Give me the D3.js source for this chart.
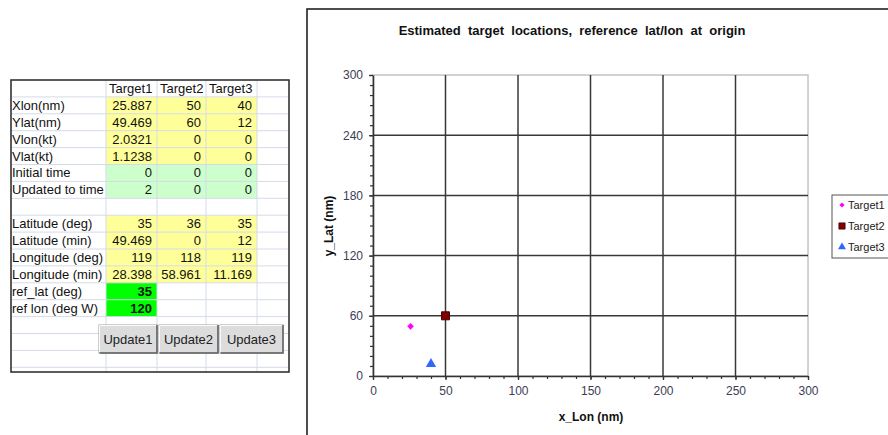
<!DOCTYPE html>
<html>
<head>
<meta charset="utf-8">
<script src="https://cdn.jsdelivr.net/npm/d3@7"></script>
<style>
  html, body { margin: 0; padding: 0; background: #fff; }
  svg { display: block; font-family: "Liberation Sans", Arial, sans-serif; }
</style>
</head>
<body>
<svg id="c" width="888" height="435"></svg>
<script>
// ---------- data ----------
const targets  = ["Target1", "Target2", "Target3"];
const xLon     = [25.887, 50, 40];
const yLat     = [49.469, 60, 12];
const vLon     = [2.0321, 0, 0];
const vLat     = [1.1238, 0, 0];
const initTime = [0, 0, 0];
const updTime  = [2, 0, 0];
const latDeg   = [35, 36, 35];
const latMin   = [49.469, 0, 12];
const lonDeg   = [119, 118, 119];
const lonMin   = [28.398, 58.961, 11.169];
const refLat   = 35;
const refLon   = 120;
const xTicks   = [0, 50, 100, 150, 200, 250, 300];
const yTicks   = [0, 60, 120, 180, 240, 300];
const buttons  = ["Update1", "Update2", "Update3"];
const chartTitle = "Estimated  target  locations,  reference  lat/lon  at  origin";

const svg = d3.select("#c");

// ---------- spreadsheet table ----------
const colX = [11, 106, 157, 206, 257, 289];   // column boundaries
const rowTop = 80, rowH = 16.9;
const rowsDef = [
  { label: "Xlon(nm)", vals: xLon, fill: "#ffff99" },
  { label: "Ylat(nm)", vals: yLat, fill: "#ffff99" },
  { label: "Vlon(kt)", vals: vLon, fill: "#ffff99" },
  { label: "Vlat(kt)", vals: vLat, fill: "#ffff99" },
  { label: "Initial time", vals: initTime, fill: "#ccffcc" },
  { label: "Updated to time", vals: updTime, fill: "#ccffcc" },
  { label: "", vals: null, fill: null },
  { label: "Latitude (deg)", vals: latDeg, fill: "#ffff99" },
  { label: "Latitude (min)", vals: latMin, fill: "#ffff99" },
  { label: "Longitude (deg)", vals: lonDeg, fill: "#ffff99" },
  { label: "Longitude (min)", vals: lonMin, fill: "#ffff99" },
  { label: "ref_lat (deg)", vals: [refLat], fill: "#00ff00", bold: true },
  { label: "ref lon (deg W)", vals: [refLon], fill: "#00ff00", bold: true }
];
const tableBottom = 372;
const tbl = svg.append("g");

// cell fills
rowsDef.forEach((r, i) => {
  if (!r.vals) return;
  const y0 = rowTop + (i + 1) * rowH;
  r.vals.forEach((v, j) => {
    tbl.append("rect").attr("x", colX[j + 1]).attr("y", y0)
      .attr("width", colX[j + 2] - colX[j + 1]).attr("height", rowH)
      .attr("fill", r.fill);
  });
});

// gridlines
const gridC = "#d4dbe8";
for (let k = 1; k < colX.length - 1; k++) {
  tbl.append("line").attr("x1", colX[k]).attr("x2", colX[k])
    .attr("y1", rowTop).attr("y2", tableBottom).attr("stroke", gridC).attr("stroke-width", 1);
}
for (let i = 1; i * rowH + rowTop < tableBottom; i++) {
  const yy = rowTop + i * rowH;
  tbl.append("line").attr("x1", colX[0]).attr("x2", colX[5])
    .attr("y1", yy).attr("y2", yy).attr("stroke", gridC).attr("stroke-width", 1);
}

// header
targets.forEach((t, j) => {
  tbl.append("text").attr("x", colX[j + 1] + 3).attr("y", rowTop + rowH / 2 + 4.5)
    .attr("font-size", 13).attr("fill", "#111").text(t);
});
// rows
rowsDef.forEach((r, i) => {
  const cy = rowTop + (i + 1) * rowH + rowH / 2 + 4.5;
  tbl.append("text").attr("x", 12).attr("y", cy).attr("font-size", 13)
    .attr("fill", "#111").text(r.label);
  if (!r.vals) return;
  r.vals.forEach((v, j) => {
    tbl.append("text").attr("x", colX[j + 2] - 5).attr("y", cy)
      .attr("text-anchor", "end").attr("font-size", 13)
      .attr("font-weight", r.bold ? "bold" : "normal")
      .attr("fill", "#111").text(String(v));
  });
});

// buttons
const btnX = [[99, 157], [159, 218], [220, 283]];
buttons.forEach((b, j) => {
  const [x0, x1] = btnX[j];
  const g = tbl.append("g");
  g.append("rect").attr("x", x0).attr("y", 325).attr("width", x1 - x0).attr("height", 28)
    .attr("fill", "#dcdcdc").attr("stroke", "#a0a0a0");
  g.append("path").attr("d", `M${x0 + 0.5},${352.5}V${325.5}H${x1 - 0.5}`)
    .attr("fill", "none").attr("stroke", "#fafafa");
  g.append("path").attr("d", `M${x0 + 0.5},${353}H${x1}V${325}`)
    .attr("fill", "none").attr("stroke", "#606060").attr("stroke-width", 1.5);
  g.append("text").attr("x", (x0 + x1) / 2).attr("y", 344).attr("text-anchor", "middle")
    .attr("font-size", 13).attr("fill", "#222").text(b);
});

// table border
tbl.append("rect").attr("x", colX[0]).attr("y", rowTop).attr("width", colX[5] - colX[0])
  .attr("height", tableBottom - rowTop).attr("fill", "none").attr("stroke", "#333").attr("stroke-width", 1.6);

// ---------- chart ----------
svg.append("rect").attr("x", 307).attr("y", 9).attr("width", 600).attr("height", 450)
  .attr("fill", "#fff").attr("stroke", "#222").attr("stroke-width", 1.6);

const X0 = 373, X1 = 808, Y0 = 376, Y1 = 75;
const x = d3.scaleLinear().domain([0, 300]).range([X0, X1]);
const y = d3.scaleLinear().domain([0, 300]).range([Y0, Y1]);

svg.append("text").attr("x", 572).attr("y", 35).attr("text-anchor", "middle")
  .attr("font-size", 13).attr("font-weight", "bold").attr("fill", "#111")
  .style("white-space", "pre").attr("xml:space", "preserve").text(chartTitle);

const plot = svg.append("g");
// plot border (light)
plot.append("rect").attr("x", X0).attr("y", Y1).attr("width", X1 - X0).attr("height", Y0 - Y1)
  .attr("fill", "none").attr("stroke", "#c4c4c4").attr("stroke-width", 1.5);

// gridlines
plot.selectAll(".gx").data(xTicks.filter(d => d > 0 && d < 300)).join("line")
  .attr("x1", d => x(d)).attr("x2", d => x(d)).attr("y1", Y0).attr("y2", Y1)
  .attr("stroke", "#383838").attr("stroke-width", 1.5);
plot.selectAll(".gy").data(yTicks.filter(d => d > 0 && d < 300)).join("line")
  .attr("x1", X0).attr("x2", X1).attr("y1", d => y(d)).attr("y2", d => y(d))
  .attr("stroke", "#383838").attr("stroke-width", 1.5);

// minor ticks
const minor = d3.range(0, 301, 10);
svg.append("g").attr("transform", `translate(0,${Y0})`)
  .call(d3.axisBottom(x).tickValues(minor).tickSize(3).tickFormat(""))
  .call(g => g.select(".domain").remove())
  .selectAll("line").attr("stroke", "#333").attr("stroke-width", 1.2);
svg.append("g").attr("transform", `translate(${X0},0)`)
  .call(d3.axisLeft(y).tickValues(minor).tickSize(3).tickFormat(""))
  .call(g => g.select(".domain").remove())
  .selectAll("line").attr("stroke", "#333").attr("stroke-width", 1.2);

// major axes
const xa = svg.append("g").attr("transform", `translate(0,${Y0})`)
  .call(d3.axisBottom(x).tickValues(xTicks).tickSize(4).tickSizeOuter(0).tickPadding(6));
const ya = svg.append("g").attr("transform", `translate(${X0},0)`)
  .call(d3.axisLeft(y).tickValues(yTicks).tickSize(4).tickSizeOuter(0).tickPadding(6));
[xa, ya].forEach(a => {
  a.select(".domain").attr("stroke", "#333").attr("stroke-width", 1.6);
  a.selectAll(".tick line").attr("stroke", "#333").attr("stroke-width", 1.3);
  a.selectAll(".tick text").attr("font-size", 12).attr("fill", "#3d3d55")
    .attr("font-family", "Liberation Sans, Arial, sans-serif");
});

// axis titles
svg.append("text").attr("x", 591).attr("y", 421).attr("text-anchor", "middle")
  .attr("font-size", 12).attr("font-weight", "bold").attr("fill", "#111").text("x_Lon (nm)");
svg.append("text").attr("transform", "translate(333,226) rotate(-90)").attr("text-anchor", "middle")
  .attr("font-size", 12).attr("font-weight", "bold").attr("fill", "#111").text("y_Lat (nm)");

// markers
const colors = ["#ff00ff", "#800000", "#3366ff"];
const symTypes = [d3.symbolDiamond2, d3.symbolSquare, d3.symbolTriangle];
const symSizes = [28, 64, 46];
const strokes = ["none", "#4a0000", "none"];
targets.forEach((t, i) => {
  svg.append("path")
    .attr("d", d3.symbol().type(symTypes[i]).size(symSizes[i])())
    .attr("transform", `translate(${x(xLon[i])},${y(yLat[i])})`)
    .attr("fill", colors[i]).attr("stroke", strokes[i]).attr("stroke-width", 1);
});

// legend
const lg = svg.append("g");
lg.append("rect").attr("x", 832).attr("y", 195).attr("width", 70).attr("height", 63)
  .attr("fill", "#fff").attr("stroke", "#555").attr("stroke-width", 1);
const legY = [205, 226, 247];
targets.forEach((t, i) => {
  lg.append("path")
    .attr("d", d3.symbol().type(symTypes[i]).size(symSizes[i] * 0.6)())
    .attr("transform", `translate(842,${legY[i]})`)
    .attr("fill", colors[i]).attr("stroke", strokes[i]).attr("stroke-width", 0.8);
  lg.append("text").attr("x", 848).attr("y", legY[i] + 4).attr("font-size", 11)
    .attr("fill", "#222").text(t);
});
</script>
</body>
</html>
